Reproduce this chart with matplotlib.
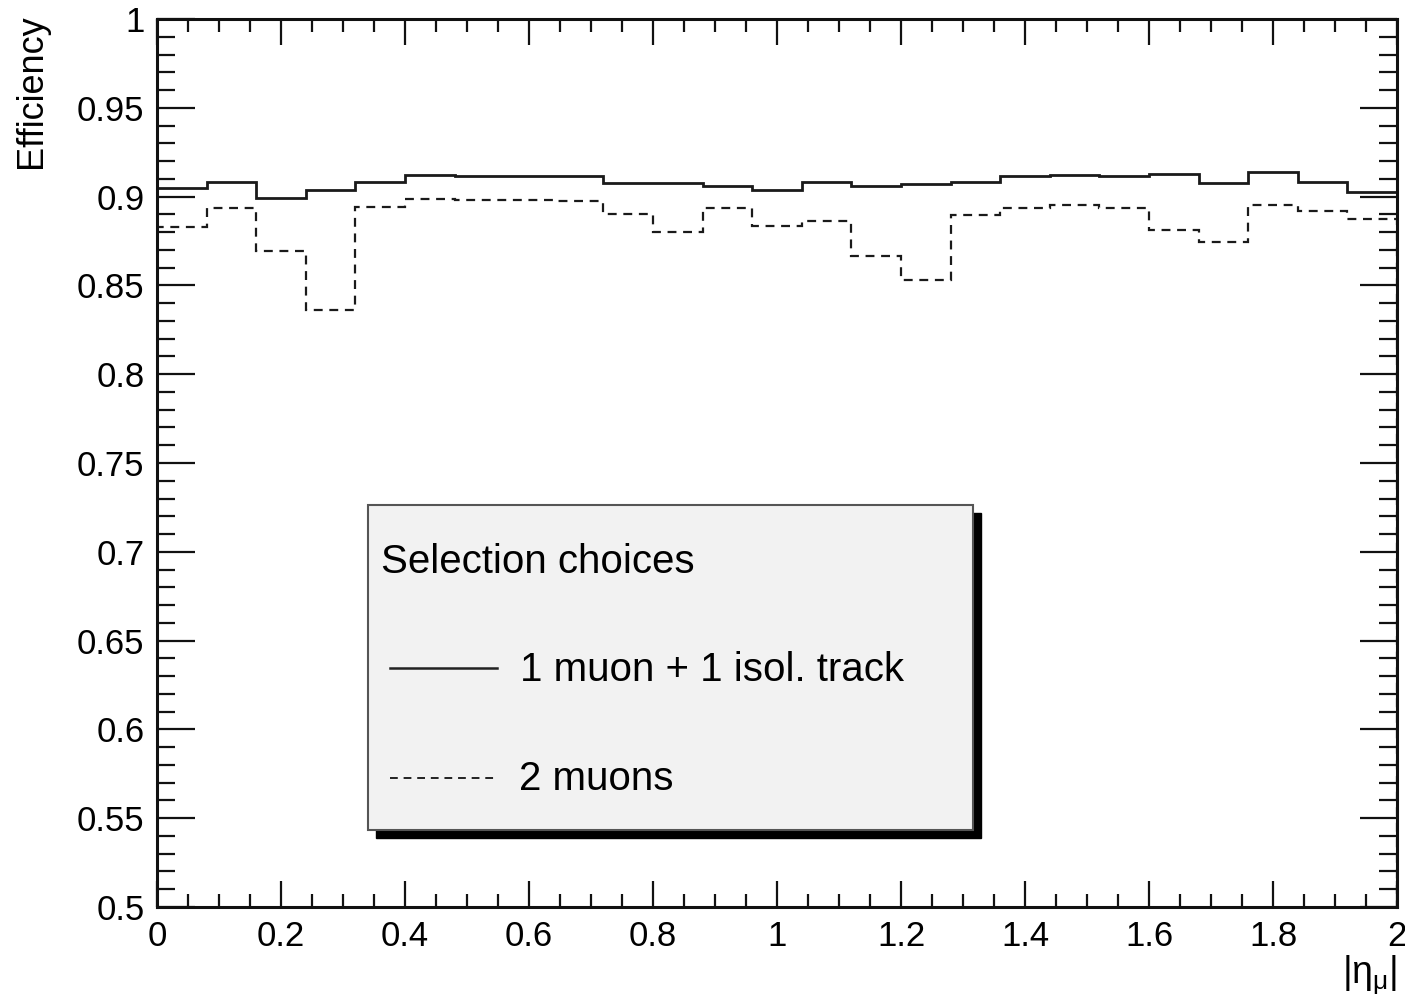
import numpy as np
import matplotlib
matplotlib.use("Agg")
import matplotlib.pyplot as plt
from matplotlib.patches import Rectangle
from matplotlib.lines import Line2D
from matplotlib.ticker import MultipleLocator

# efficiency vs |eta_mu|, 25 bins of 0.08 from 0 to 2
bin_edges = np.linspace(0, 2, 26)

eff_muon_track = [0.905, 0.908, 0.899, 0.9036, 0.908, 0.9124, 0.9118, 0.9115,
                  0.9118, 0.9077, 0.9077, 0.906, 0.9036, 0.9085, 0.9058, 0.907,
                  0.9085, 0.9118, 0.9124, 0.9116, 0.913, 0.9079, 0.914, 0.9083,
                  0.9025]
eff_two_muons = [0.8827, 0.8936, 0.8692, 0.836, 0.894, 0.8989, 0.8983, 0.898,
                 0.8974, 0.8904, 0.8799, 0.8933, 0.8833, 0.8861, 0.8664, 0.8529,
                 0.8899, 0.8936, 0.8955, 0.8933, 0.8814, 0.8745, 0.8955, 0.8921,
                 0.8874]

labels = ["1 muon + 1 isol. track", "2 muons"]
legend_title = "Selection choices"

plt.rcParams['font.family'] = ['Liberation Sans', 'DejaVu Sans']
plt.rcParams['mathtext.fontset'] = 'custom'
plt.rcParams['mathtext.rm'] = 'Liberation Sans'
plt.rcParams['mathtext.it'] = 'Liberation Sans'

W, H = 1405, 1006
fig = plt.figure(figsize=(W / 100, H / 100), dpi=100)
ax = fig.add_axes([157 / W, 1 - 907 / H, (1397 - 157) / W, (907 - 19) / H])

ax.stairs(eff_muon_track, bin_edges, color='#1a1a1a', lw=2.0)
ax.stairs(eff_two_muons, bin_edges, color='#1a1a1a', lw=1.6, linestyle=(0, (4, 3)))

ax.set_xlim(0, 2)
ax.set_ylim(0.5, 1)
ax.xaxis.set_major_locator(MultipleLocator(0.2))
ax.xaxis.set_minor_locator(MultipleLocator(0.05))
ax.yaxis.set_major_locator(MultipleLocator(0.05))
ax.yaxis.set_minor_locator(MultipleLocator(0.01))
ax.xaxis.set_major_formatter(lambda v, p: f"{v:g}")
ax.yaxis.set_major_formatter(lambda v, p: f"{v:g}")

for s in ax.spines.values():
    s.set_linewidth(2.2)
    s.set_color('#111111')

ax.tick_params(axis='both', which='both', direction='in', top=True, right=True,
               width=1.6, color='#111111', labelsize=25, pad=9)
ax.tick_params(axis='x', which='major', length=19)
ax.tick_params(axis='x', which='minor', length=9.5)
ax.tick_params(axis='y', which='major', length=27)
ax.tick_params(axis='y', which='minor', length=13)

ax.set_xlabel(r"$|\eta_{\mu}|$", fontsize=27)
ax.xaxis.set_label_coords(1.0, -0.052)
ax.xaxis.label.set_horizontalalignment('right')
ax.xaxis.label.set_verticalalignment('top')

# ROOT style legend box with shadow
def fx(px):
    return px / W

def fy(py):
    return 1 - py / H

# y title, top-aligned like ROOT
fig.text(fx(32), fy(14), "Efficiency", fontsize=26, rotation=90, ha='center', va='top')

fig.patches.append(Rectangle((fx(376), fy(838)), fx(973) - fx(368), fy(505) - fy(830),
                             transform=fig.transFigure, facecolor='black',
                             edgecolor='black', zorder=5))
fig.patches.append(Rectangle((fx(368), fy(830)), fx(973) - fx(368), fy(505) - fy(830),
                             transform=fig.transFigure, facecolor='#f2f2f2',
                             edgecolor='#555555', lw=1.5, zorder=6))
fig.text(fx(381), fy(562), legend_title, fontsize=29, va='center', ha='left', zorder=7)
fig.lines.append(Line2D([fx(390), fx(497)], [fy(668), fy(668)], transform=fig.transFigure,
                        color='#222222', lw=1.8, zorder=7))
fig.lines.append(Line2D([fx(390), fx(497)], [fy(778), fy(778)], transform=fig.transFigure,
                        color='#222222', lw=1.4, linestyle=(0, (4, 3)), zorder=7))
fig.text(fx(520), fy(670), labels[0], fontsize=29, va='center', ha='left', zorder=7)
fig.text(fx(519), fy(779), labels[1], fontsize=29, va='center', ha='left', zorder=7)

fig.savefig("out.png", dpi=100, facecolor='white')
